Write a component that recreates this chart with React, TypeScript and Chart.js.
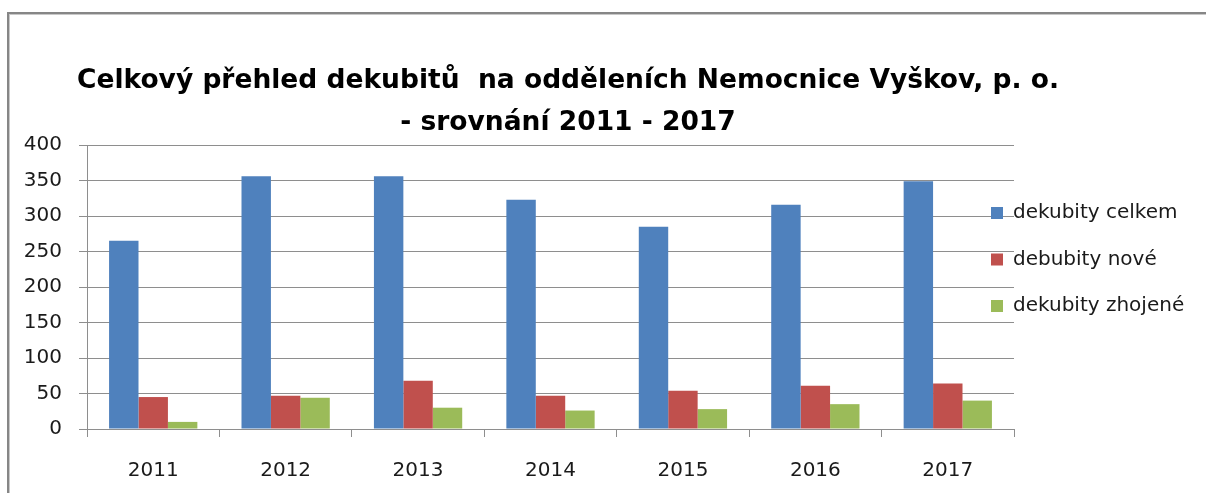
import React, { useEffect, useRef } from "react";
import { Chart, registerables } from "chart.js";

Chart.register(...registerables);

const years = ["2011", "2012", "2013", "2014", "2015", "2016", "2017"];
const celkem = [265, 356, 356, 323, 285, 316, 349];
const nove = [45, 47, 68, 47, 54, 61, 64];
const zhojene = [10, 44, 30, 26, 28, 35, 40];
const seriesNames = ["dekubity celkem", "debubity nové", "dekubity zhojené"];
const seriesColors = ["#4F81BD", "#C0504D", "#9BBB59"];
const titleLines = [
  "Celkový přehled dekubitů  na odděleních Nemocnice Vyškov, p. o.",
  "- srovnání 2011 - 2017",
];
const yMin = 0;
const yMax = 400;
const yStep = 50;

const TEXT_FONT = "'DejaVu Sans', sans-serif";

const sideLegend = {
  id: "sideLegend",
  afterDraw(chart: any) {
    const ctx = chart.ctx;
    const boxLeft = chart.chartArea.right - 23;
    const firstY = chart.chartArea.top + 68;
    const gap = 46.5;
    const box = 12;
    ctx.save();
    ctx.font = `20px ${TEXT_FONT}`;
    ctx.textBaseline = "middle";
    ctx.textAlign = "left";
    chart.data.datasets.forEach((ds: any, i: number) => {
      const cy = firstY + i * gap;
      ctx.fillStyle = ds.backgroundColor;
      ctx.fillRect(boxLeft, cy - box / 2, box, box);
      ctx.fillStyle = "#1a1a1a";
      ctx.fillText(ds.label, boxLeft + 22, cy);
    });
    ctx.restore();
  },
};

export default function App() {
  const ref = useRef<HTMLCanvasElement | null>(null);

  useEffect(() => {
    if (!ref.current) return;
    const datasets = [celkem, nove, zhojene].map((d, i) => ({
      label: seriesNames[i],
      data: d,
      backgroundColor: seriesColors[i],
      borderWidth: 0,
      categoryPercentage: 3 / 4.5,
      barPercentage: 1,
      yAxisID: "y",
    }));
    const chart = new Chart(ref.current, {
      type: "bar",
      data: { labels: years, datasets },
      options: {
        animation: false,
        responsive: false,
        layout: { padding: 0 },
        plugins: {
          legend: { display: false },
          tooltip: { enabled: false },
          title: {
            display: true,
            text: titleLines,
            color: "#000",
            font: { family: "'DejaVu Sans', sans-serif", weight: "bold", size: 26.5, lineHeight: 42 / 26.5 },
            padding: { top: 60, bottom: 1 },
          },
        },
        scales: {
          x: {
            afterFit: (scale: any) => {
              scale.height = 64;
            },
            grid: {
              display: true,
              drawOnChartArea: false,
              drawTicks: true,
              offset: true,
              tickLength: 8,
              color: "#8e8e8e",
            },
            border: { display: true, color: "#8e8e8e" },
            ticks: {
              color: "#1a1a1a",
              font: { family: TEXT_FONT, size: 20 },
              padding: 22,
              maxRotation: 0,
            },
          },
          y: {
            min: yMin,
            max: yMax,
            afterFit: (scale: any) => {
              scale.width = 147;
            },
            grid: { color: "#8e8e8e", tickLength: 8 },
            border: { display: true, color: "#8e8e8e" },
            ticks: {
              stepSize: yStep,
              color: "#1a1a1a",
              font: { family: TEXT_FONT, size: 20 },
              padding: 17,
            },
          },
          legendSpace: {
            type: "linear",
            position: "right",
            display: true,
            afterFit: (scale: any) => {
              scale.width = 182;
            },
            grid: { display: false, drawTicks: false },
            border: { display: false },
            ticks: { display: false },
          },
        },
      },
      plugins: [sideLegend],
    });
    return () => chart.destroy();
  }, []);

  return (
    <div
      style={{
        position: "fixed",
        left: 0,
        top: 0,
        width: 1206,
        height: 493,
        overflow: "hidden",
        background: "#fff",
      }}
    >
      <div
        style={{
          position: "absolute",
          left: 7,
          top: 12,
          width: 1400,
          height: 700,
          borderTop: "2px solid #868686",
          borderLeft: "2px solid #868686",
          boxShadow: "inset 1px 1px 0 #c8c8c8",
        }}
      />
      <div style={{ position: "absolute", left: -60, top: 0, width: 1256, height: 493 }}>
        <canvas ref={ref} width={1256} height={493} style={{ display: "block" }} />
      </div>
    </div>
  );
}
